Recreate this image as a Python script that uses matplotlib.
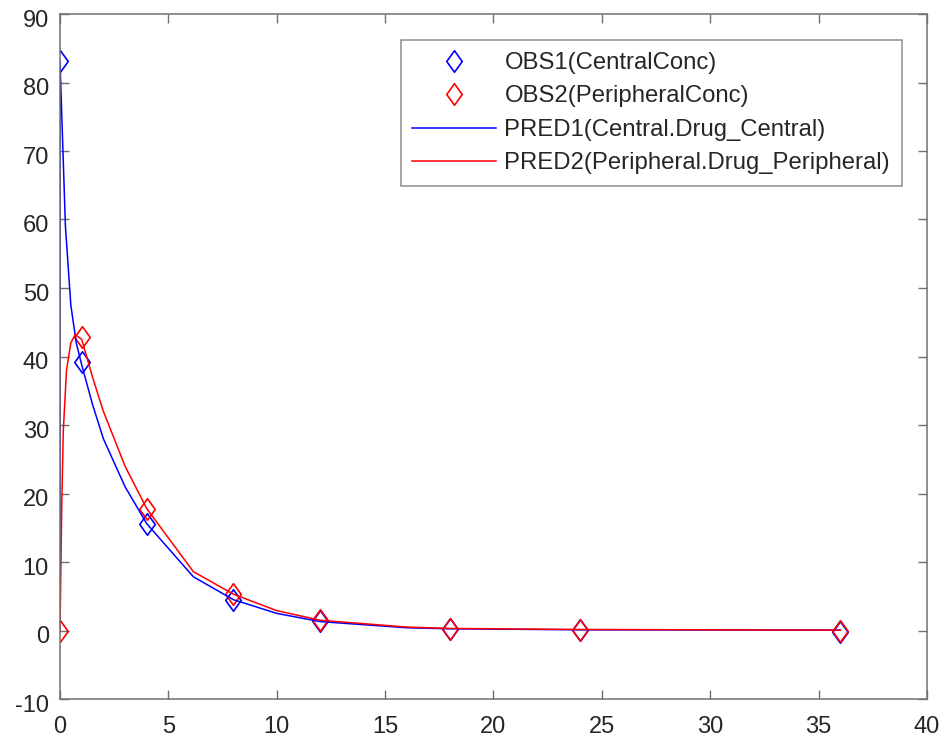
import matplotlib
matplotlib.use("Agg")
import matplotlib.pyplot as plt
from matplotlib.path import Path
from matplotlib.transforms import ScaledTranslation

plt.rcParams['font.family'] = ['Liberation Sans', 'DejaVu Sans']
plt.rcParams['axes.unicode_minus'] = False

# Observations
obs_t = [0, 1, 4, 8, 12, 18, 24, 36]
obs1 = [83.1, 39.2, 15.6, 4.5, 1.4, 0.25, 0.1, -0.25]
obs2 = [0.0, 42.9, 17.8, 5.3, 1.5, 0.25, 0.1, 0.0]

# Predictions
pred1_t = [0, 0, 0.25, 0.5, 0.75, 1, 1.5, 2, 3, 4, 6.15, 8, 10, 12, 16, 18, 24, 36]
pred1 = [0, 83.1, 59, 47.5, 42, 38.8, 33, 28, 21, 15.6, 7.85, 4.5, 2.5, 1.3, 0.4, 0.25, 0.1, 0.05]
pred2_t = [0, 0.08, 0.15, 0.3, 0.5, 0.7, 1, 1.5, 2, 3, 4, 6.15, 8, 10, 12, 16, 18, 24, 36]
pred2 = [0, 18, 29, 38, 42, 43.2, 42.5, 37, 32, 24, 17.8, 8.6, 5.3, 2.9, 1.5, 0.5, 0.3, 0.15, 0.05]

labels = ['OBS1(CentralConc)', 'OBS2(PeripheralConc)',
          'PRED1(Central.Drug_Central)', 'PRED2(Peripheral.Drug_Peripheral)']

diamond = Path([(0, 1), (0.72, 0), (0, -1), (-0.72, 0), (0, 1)],
               [Path.MOVETO, Path.LINETO, Path.LINETO, Path.LINETO, Path.CLOSEPOLY])

TXT = '#262626'
SPINE = '#707070'

fig = plt.figure(figsize=(9.45, 7.43), dpi=100)
ax = fig.add_axes([60 / 945, 44 / 743, 867 / 945, 685 / 743])

mk = dict(linestyle='none', marker=diamond, markersize=15.5,
          markerfacecolor='none', markeredgewidth=1.2)
ax.plot(obs_t, obs1, markeredgecolor='#0000ff', label=labels[0], **mk)
ax.plot(obs_t, obs2, markeredgecolor='#ff0000', label=labels[1], **mk)
ax.plot(pred1_t, pred1, color='#0000ff', lw=1.1, label=labels[2])
ax.plot(pred2_t, pred2, color='#ff0000', lw=1.1, label=labels[3])

ax.set_xlim(0, 40)
ax.set_ylim(-10, 90)
ax.set_xticks(range(0, 41, 5))
ax.set_yticks(range(-10, 91, 10))
ax.tick_params(direction='in', top=True, right=True, labelsize=17,
               labelcolor=TXT, color=SPINE, length=6.5, width=1.0)
ax.tick_params(axis='x', pad=12)
ax.tick_params(axis='y', pad=8)
for lab in ax.get_yticklabels():
    lab.set_transform(lab.get_transform() + ScaledTranslation(0, -3 / 72, fig.dpi_scale_trans))
for s in ax.spines.values():
    s.set_color(SPINE)
    s.set_linewidth(1.1)

leg = ax.legend(loc='upper right', bbox_to_anchor=(902 / 945, 1 - 40 / 743),
                bbox_transform=fig.transFigure, borderaxespad=0,
                fontsize=17.2, frameon=True, fancybox=False, edgecolor=SPINE,
                handlelength=3.5, borderpad=0.5, labelspacing=0.48,
                handletextpad=0.35)
leg.get_frame().set_linewidth(1.1)
for t in leg.get_texts():
    t.set_color(TXT)

fig.savefig('out.png', dpi=100)
